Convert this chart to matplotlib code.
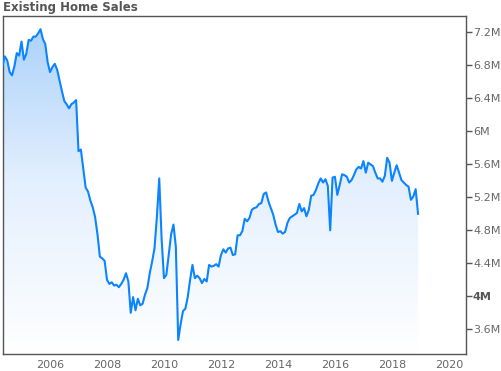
import numpy as np
import pandas as pd
import matplotlib
matplotlib.use("Agg")
import matplotlib.pyplot as plt
from matplotlib.colors import LinearSegmentedColormap

# monthly existing home sales (millions, SAAR), May 2004 - Dec 2018
sales = [
    6.80, 6.91, 6.86, 6.72, 6.68, 6.79, 6.95, 6.92,                      # 2004
    7.09, 6.87, 6.94, 7.11, 7.10, 7.15, 7.15, 7.19, 7.24, 7.12, 7.06, 6.84,  # 2005
    6.72, 6.78, 6.82, 6.75, 6.62, 6.49, 6.37, 6.33, 6.28, 6.33, 6.35, 6.38,  # 2006
    5.76, 5.78, 5.55, 5.32, 5.27, 5.16, 5.08, 4.96, 4.75, 4.48, 4.46, 4.43,  # 2007
    4.20, 4.15, 4.17, 4.13, 4.14, 4.11, 4.15, 4.20, 4.28, 4.18, 3.80, 3.99,  # 2008
    3.83, 3.97, 3.89, 3.91, 4.02, 4.10, 4.28, 4.42, 4.58, 4.96, 5.43, 4.70,  # 2009
    4.22, 4.26, 4.50, 4.75, 4.87, 4.60, 3.47, 3.66, 3.82, 3.85, 3.99, 4.20,  # 2010
    4.38, 4.22, 4.25, 4.22, 4.16, 4.21, 4.18, 4.38, 4.36, 4.37, 4.39, 4.36,  # 2011
    4.50, 4.57, 4.53, 4.58, 4.59, 4.50, 4.51, 4.74, 4.74, 4.79, 4.94, 4.91,  # 2012
    4.95, 5.05, 5.07, 5.08, 5.12, 5.13, 5.24, 5.26, 5.15, 5.07, 4.99, 4.87,  # 2013
    4.78, 4.79, 4.76, 4.78, 4.89, 4.95, 4.97, 4.99, 5.01, 5.12, 5.03, 5.07,  # 2014
    4.97, 5.05, 5.22, 5.23, 5.29, 5.37, 5.43, 5.38, 5.42, 5.34, 4.80, 5.44,  # 2015
    5.45, 5.23, 5.35, 5.48, 5.47, 5.45, 5.38, 5.41, 5.47, 5.54, 5.57, 5.55,  # 2016
    5.64, 5.50, 5.62, 5.60, 5.58, 5.50, 5.43, 5.43, 5.39, 5.46, 5.68, 5.62,  # 2017
    5.40, 5.50, 5.59, 5.50, 5.41, 5.38, 5.35, 5.33, 5.17, 5.21, 5.30, 5.00,  # 2018
]
dates = pd.date_range("2004-05-01", periods=len(sales), freq="MS")
years = dates.year + (dates.month - 1) / 12.0

year_ticks = [2006, 2008, 2010, 2012, 2014, 2016, 2018, 2020]
value_ticks = [3.6, 4.0, 4.4, 4.8, 5.2, 5.6, 6.0, 6.4, 6.8, 7.2]
value_labels = ["3.6M", "4M", "4.4M", "4.8M", "5.2M", "5.6M", "6M", "6.4M", "6.8M", "7.2M"]

fig = plt.figure(figsize=(5.02, 3.71), dpi=100)
ax = fig.add_axes([3 / 502, 1 - 354 / 371, 463 / 502, 338 / 371])

x0, x1 = 2004.35, 2020.6
y0, y1 = 3.30, 7.40
ax.set_xlim(x0, x1)
ax.set_ylim(y0, y1)

# gradient fill under the line
cmap = LinearSegmentedColormap.from_list("fillgrad", ["#ffffff", "#e4f0fe", "#a9d0fa"])
grad = np.linspace(0, 1, 256).reshape(-1, 1)
im = ax.imshow(grad, extent=[x0, x1, y0, y1], origin="lower", aspect="auto",
               cmap=cmap, zorder=1)
poly = ax.fill_between(years, sales, y0, facecolor="none", edgecolor="none")
im.set_clip_path(poly.get_paths()[0], transform=ax.transData)

ax.plot(years, sales, color="#0a84ff", lw=1.5, zorder=3)

# axes styling
for s in ax.spines.values():
    s.set_color("#555555")
    s.set_linewidth(1.0)
ax.yaxis.tick_right()
ax.set_yticks(value_ticks)
ax.set_yticklabels(value_labels)
ax.set_xticks(year_ticks)
ax.set_xticklabels([str(y) for y in year_ticks])
ax.tick_params(axis="y", direction="out", length=4, width=1, color="#555555",
               labelcolor="#666666", labelsize=8, pad=1)
ax.tick_params(axis="x", length=0, labelcolor="#666666", labelsize=8, pad=4)
for lbl in ax.get_yticklabels():
    if lbl.get_text() == "4M":
        lbl.set_fontweight("bold")
        lbl.set_color("#555555")

fig.text(3 / 502, 1 - 8 / 371, "Existing Home Sales", fontsize=8.5, fontweight="bold",
         color="#555555", ha="left", va="center")

plt.savefig("out.png", dpi=100)
